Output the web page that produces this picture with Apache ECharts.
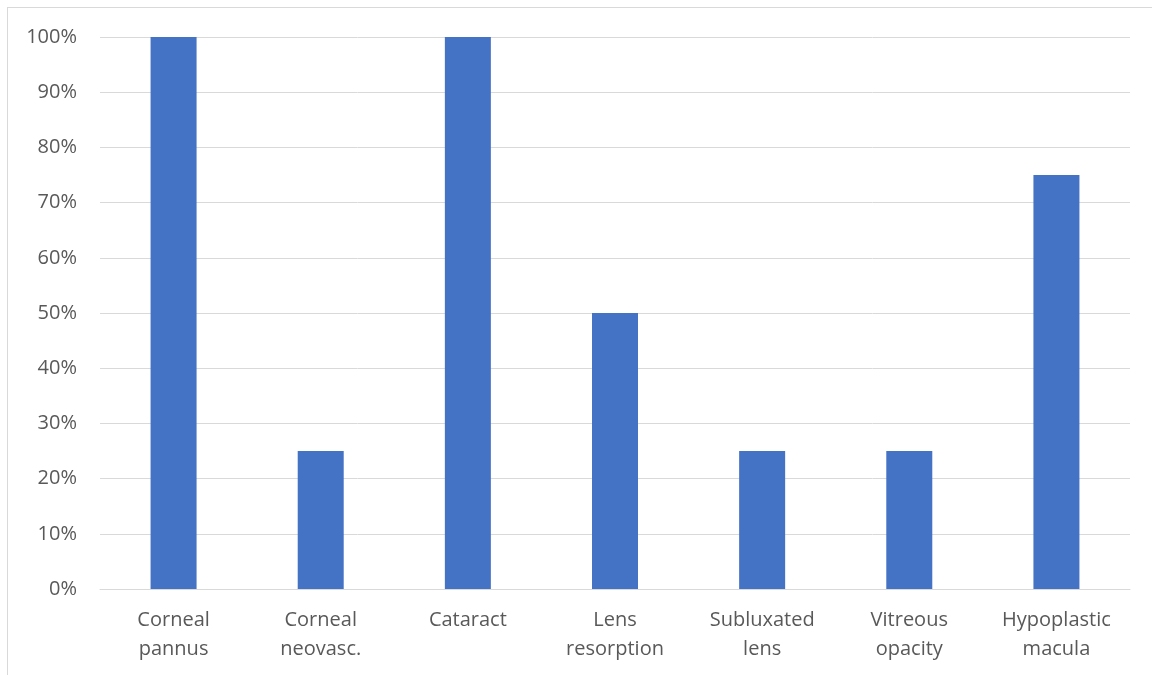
<!DOCTYPE html>
<html><head><meta charset="utf-8">
<script src="https://cdn.jsdelivr.net/npm/echarts@6/dist/echarts.min.js"></script>
<style>
html,body{margin:0;padding:0;background:#fff;}
#frame{position:absolute;left:7px;top:7px;width:1200px;height:700px;border-left:1px solid #d9d9d9;border-top:1px solid #d9d9d9;}
#c{position:absolute;left:0;top:0;width:1152px;height:675px;}
</style></head>
<body>
<div id="frame"></div>
<div id="c"></div>
<script>
const categories = ['Corneal\npannus','Corneal\nneovasc.','Cataract','Lens\nresorption','Subluxated\nlens','Vitreous\nopacity','Hypoplastic\nmacula'];
const values = [100, 25, 100, 50, 25, 25, 75];
const chart = echarts.init(document.getElementById('c'));
chart.setOption({
  animation:false,
  grid:{left:100,right:22,top:37,bottom:86,containLabel:false},
  xAxis:{type:'category',data:categories,
    axisLine:{lineStyle:{color:'#d9d9d9',width:1}},
    axisTick:{show:false},
    axisLabel:{color:'#595959',fontSize:20,fontFamily:'Open Sans, Calibri, sans-serif',lineHeight:29,margin:17,interval:0}},
  yAxis:{type:'value',min:0,max:100,interval:10,
    axisLine:{show:false},axisTick:{show:false},
    splitLine:{lineStyle:{color:'#d9d9d9',width:1}},
    axisLabel:{color:'#595959',fontSize:20,fontFamily:'Open Sans, Calibri, sans-serif',margin:23,formatter:'{value}%'}},
  series:[{type:'bar',data:values,barWidth:46,itemStyle:{color:'#4472C4'}}]
});
</script>
</body></html>
